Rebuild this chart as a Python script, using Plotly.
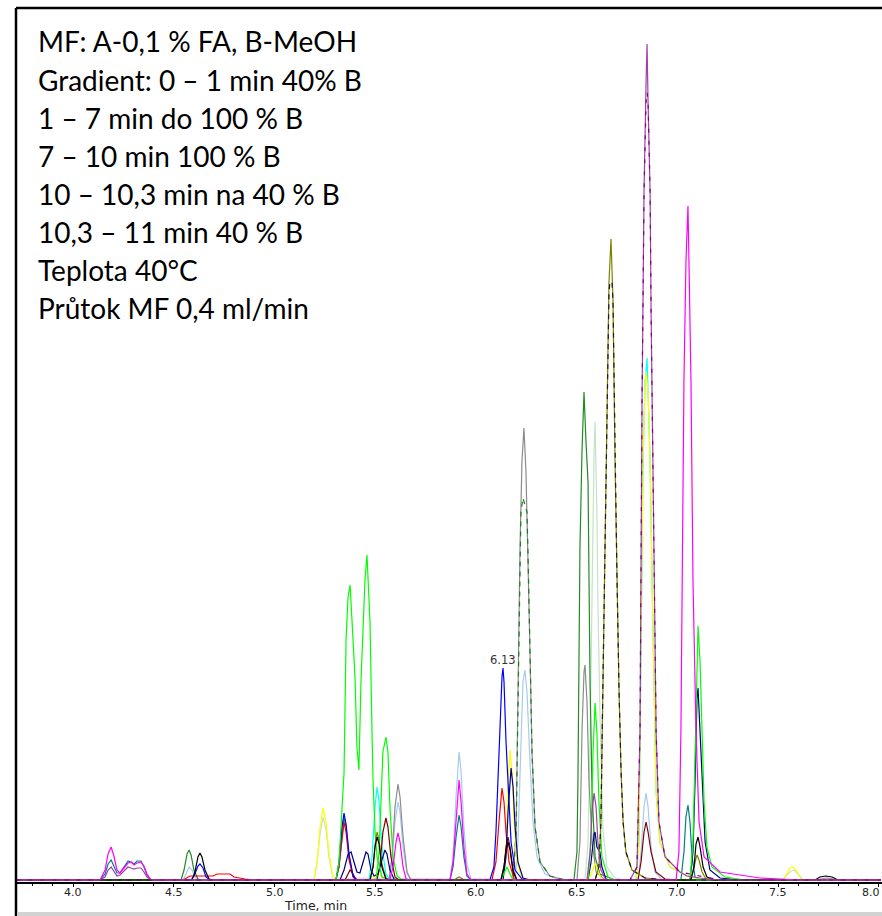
import plotly.graph_objects as go

# ---------------- data: (retention time [min], intensity [a.u.]) ----------------
PALE_GREEN = [(3.72,2),(5.196,2),(5.211,18),(5.226,48),(5.241,65),(5.256,52),(5.270,25),(5.290,4),
              (6.541,2),(6.556,40),(6.566,142),(6.576,302),(6.586,430),(6.591,460),(6.600,369),(6.605,280),
              (6.615,169),(6.630,52),(6.650,15),(6.690,4),(6.739,2),
              (7.524,2),(7.543,7),(7.563,11),(7.578,12),(7.598,8),(7.618,3),(7.638,2),(8.01,2)]

LIGHT_BLUE = [(3.72,2),(4.546,2),(4.561,8),(4.576,15),(4.591,12),(4.605,5),(4.625,2),
              (5.568,2),(5.583,20),(5.598,60),(5.613,80),(5.623,70),(5.638,35),(5.658,8),(5.677,2),
              (5.871,2),(5.886,25),(5.901,85),(5.916,130),(5.926,110),(5.940,55),(5.955,18),(5.975,3),
              (6.194,2),(6.208,40),(6.223,150),(6.233,200),(6.243,212),(6.253,190),(6.268,120),(6.283,60),
              (6.303,25),(6.342,8),(6.417,2),
              (6.804,2),(6.819,30),(6.834,75),(6.844,89),(6.854,75),(6.869,35),(6.888,10),(6.923,2),(8.01,2)]

GRAY = [(3.72,2),(5.568,2),(5.583,25),(5.598,75),(5.613,98),(5.623,85),(5.638,45),(5.658,10),(5.677,2),
        (6.184,2),(6.199,50),(6.208,180),(6.218,330),(6.228,420),(6.238,454),(6.248,410),(6.258,330),
        (6.268,230),(6.278,130),(6.293,55),(6.318,20),(6.367,6),(6.442,2),
        (6.501,2),(6.516,40),(6.526,150),(6.536,210),(6.541,217),(6.551,180),(6.561,100),(6.576,40),
        (6.596,10),(6.640,2),(7.682,2),(7.712,3),(7.742,4),(7.772,3),(7.800,2),(8.01,2)]

GREEN_DASHED = [(3.72,2),(6.184,2),(6.199,50),(6.208,180),(6.218,330),(6.223,370),(6.233,384),(6.243,376),
                (6.253,370),(6.258,330),(6.268,230),(6.278,130),(6.293,55),(6.318,20),(6.367,6),(6.442,2),(8.01,2)]

DARK_GREEN = [(3.72,2),(4.536,2),(4.551,12),(4.566,28),(4.576,32),(4.586,27),(4.600,12),(4.620,3),(4.640,2),
              (5.305,2),(5.320,15),(5.335,50),(5.345,65),(5.355,55),(5.370,25),(5.390,5),(5.409,2),
              (6.486,2),(6.501,30),(6.506,102),(6.516,335),(6.526,430),(6.536,490),(6.546,440),(6.556,400),
              (6.566,200),(6.576,90),(6.591,25),(6.615,8),(6.690,2),(8.01,2)]

TEAL = [(3.72,2),(4.134,2),(4.159,8),(4.174,18),(4.189,22),(4.203,16),(4.218,9),(4.233,9),(4.253,15),
        (4.273,21),(4.288,20),(4.303,18),(4.318,21),(4.337,21),(4.352,15),(4.367,7),(4.387,2),
        (5.871,2),(5.886,15),(5.901,45),(5.916,67),(5.926,55),(5.940,25),(5.955,6),(5.975,2),
        (7.017,2),(7.032,30),(7.042,65),(7.052,77),(7.062,60),(7.072,25),(7.087,5),(7.112,2),(8.01,2)]

CYAN = [(3.72,2),(5.469,2),(5.484,25),(5.499,75),(5.509,95),(5.519,80),(5.533,35),(5.553,8),(5.573,2),
        (6.794,2),(6.809,40),(6.819,250),(6.829,420),(6.839,500),(6.849,524),(6.854,490),(6.864,420),
        (6.874,300),(6.884,180),(6.894,90),(6.913,40),(6.963,15),(7.062,5),(7.161,2),(8.01,2)]

YELLOW = [(3.72,2),(5.196,2),(5.211,20),(5.226,55),(5.241,74),(5.256,60),(5.270,30),(5.290,5),(5.310,2),
          (5.484,2),(5.499,7),(5.514,10),(5.529,7),(5.543,2),
          (6.129,2),(6.149,30),(6.159,100),(6.169,132),(6.179,110),(6.189,60),(6.203,20),(6.228,3),
          (6.561,2),(6.576,10),(6.591,19),(6.605,12),(6.620,3),
          (6.794,2),(6.809,40),(6.819,250),(6.829,420),(6.839,500),(6.844,510),(6.854,490),(6.864,420),
          (6.874,300),(6.884,180),(6.894,90),(6.913,40),(6.963,15),(7.062,5),(7.161,2),
          (7.524,2),(7.543,9),(7.558,14),(7.573,15),(7.593,11),(7.613,3),(7.638,2),(8.01,2)]

RED = [(3.72,2),(4.546,2),(4.581,6),(4.695,6),(4.715,8),(4.779,8),(4.799,5),(4.854,3),(4.903,2),
       (5.305,2),(5.320,15),(5.335,45),(5.345,60),(5.355,50),(5.370,22),(5.390,5),(5.409,2),
       (6.079,2),(6.099,20),(6.114,60),(6.124,90),(6.129,94),(6.139,80),(6.149,50),(6.164,20),(6.189,3),
       (6.218,2),(8.01,2)]

MAROON = [(3.72,2),(5.350,2),(5.365,8),(5.375,12),(5.390,8),(5.404,2),
          (5.509,2),(5.524,18),(5.538,50),(5.553,64),(5.563,55),(5.578,25),(5.598,5),(5.618,2),
          (6.124,2),(6.139,15),(6.149,35),(6.159,45),(6.169,35),(6.184,12),(6.203,2),
          (6.804,2),(6.819,20),(6.834,50),(6.844,60),(6.854,50),(6.869,30),(6.893,10),(6.938,3),(7.012,2),(8.01,2)]

BLUE = [(3.72,2),(4.586,2),(4.605,8),(4.620,16),(4.630,18),(4.645,14),(4.660,5),(4.680,2),
        (5.305,2),(5.320,20),(5.335,55),(5.345,69),(5.355,58),(5.370,28),(5.390,6),(5.409,2),
        (6.069,2),(6.089,15),(6.099,50),(6.109,100),(6.119,165),(6.129,205),(6.134,214),(6.139,200),
        (6.149,140),(6.159,95),(6.174,40),(6.194,12),(6.228,3),(6.268,2),(8.01,2)]

NAVY = [(3.72,2),(5.325,2),(5.345,12),(5.365,28),(5.380,30),(5.395,20),(5.409,10),(5.424,9),(5.439,20),
        (5.454,30),(5.464,28),(5.479,12),(5.494,6),(5.514,8),(5.533,22),(5.548,32),(5.558,28),(5.573,12),
        (5.593,3),(5.613,2),
        (6.134,2),(6.149,25),(6.159,70),(6.169,105),(6.174,114),(6.184,95),(6.194,55),(6.208,20),(6.233,4),(6.268,2),
        (6.556,2),(6.571,20),(6.586,48),(6.591,50),(6.600,35),(6.615,30),(6.625,15),(6.645,3),(6.665,2),
        (7.062,2),(7.077,30),(7.087,100),(7.097,185),(7.102,194),(7.112,150),(7.122,100),(7.137,40),
        (7.161,12),(7.211,4),(7.310,2),(8.01,2)]

LIME_A = [(3.72,2),(5.305,2),(5.320,20),(5.335,69),(5.345,109),(5.350,175),(5.355,242),(5.365,285),(5.375,297),
          (5.385,260),(5.400,202),(5.409,135),(5.419,112),(5.429,200),(5.439,260),(5.449,302),(5.459,327),
          (5.464,300),(5.474,259),(5.484,149),(5.489,102),(5.499,50),(5.509,25),(5.533,5),(5.573,2),(8.01,2)]

LIME_B = [(3.72,2),(5.504,2),(5.519,30),(5.529,90),(5.538,130),(5.553,145),(5.563,130),(5.573,75),(5.588,25),
          (5.608,6),(5.633,2),(6.124,2),(6.139,8),(6.154,15),(6.169,8),(6.184,2),
          (6.556,2),(6.571,40),(6.581,130),(6.591,179),(6.600,150),(6.610,80),(6.625,25),(6.655,5),(6.690,2),
          (7.062,2),(7.077,40),(7.087,140),(7.097,240),(7.102,256),(7.112,220),(7.122,150),(7.132,80),
          (7.146,35),(7.171,15),(7.236,5),(7.335,2),(8.01,2)]

OLIVE = [(3.72,2),(5.474,2),(5.489,15),(5.499,38),(5.509,50),(5.519,42),(5.533,18),(5.553,4),(5.573,2),
         (5.895,2),(5.906,4),(5.916,5),(5.926,4),(5.940,2),
         (6.591,2),(6.610,15),(6.620,60),(6.630,200),(6.640,330),(6.650,480),(6.660,600),(6.670,643),
         (6.680,580),(6.690,420),(6.700,300),(6.710,190),(6.720,110),(6.730,60),(6.744,30),(6.774,12),
         (6.839,4),(6.938,2),
         (7.062,2),(7.077,10),(7.092,24),(7.097,27),(7.107,22),(7.122,10),(7.141,3),(7.171,2),(8.01,2)]

BLACK = [(3.72,2),(4.591,2),(4.605,10),(4.620,25),(4.630,29),(4.640,25),(4.655,12),(4.675,3),(4.695,2),
         (5.474,2),(5.489,15),(5.499,35),(5.509,45),(5.519,38),(5.533,15),(5.553,3),(5.573,2),
         (6.124,2),(6.139,15),(6.149,32),(6.159,40),(6.169,32),(6.184,10),(6.203,2),
         (7.067,2),(7.082,15),(7.092,38),(7.102,45),(7.112,35),(7.127,15),(7.146,5),(7.186,2),
         (7.682,2),(7.707,5),(7.737,6),(7.767,5),(7.797,2),(8.01,2)]

BLACK_MAIN = [(3.72,2),(6.591,2),(6.610,15),(6.620,60),(6.630,200),(6.640,330),(6.650,480),(6.660,590),
              (6.665,600),(6.675,600),(6.680,580),(6.690,420),(6.700,300),(6.710,190),(6.720,110),(6.730,60),
              (6.744,30),(6.774,12),(6.839,4),(6.938,2),(8.01,2)]

MAGENTA = [(3.72,2),(4.134,2),(4.159,12),(4.174,28),(4.189,35),(4.203,26),(4.218,12),(4.233,9),(4.253,14),
           (4.273,19),(4.288,20),(4.303,17),(4.318,19),(4.337,20),(4.352,16),(4.367,8),(4.387,2),
           (5.573,2),(5.588,15),(5.603,40),(5.613,49),(5.623,40),(5.638,15),(5.653,3),(5.672,2),
           (5.871,2),(5.886,20),(5.901,65),(5.916,102),(5.926,80),(5.940,35),(5.955,8),(5.975,2),
           (6.993,2),(7.007,30),(7.017,150),(7.027,380),(7.032,500),(7.042,620),(7.052,676),(7.057,620),
           (7.067,500),(7.077,300),(7.092,150),(7.107,60),(7.132,25),(7.211,10),(7.409,4),(7.608,2),(8.01,2)]

PURPLE = [(3.72,2),(4.134,2),(4.159,5),(4.174,12),(4.189,15),(4.203,11),(4.218,6),(4.233,7),(4.253,11),
          (4.273,15),(4.288,14),(4.303,13),(4.318,14),(4.337,14),(4.352,10),(4.367,5),(4.387,2),
          (6.551,2),(6.566,30),(6.576,70),(6.586,89),(6.596,75),(6.605,40),(6.620,12),(6.645,2),
          (6.764,2),(6.799,15),(6.814,150),(6.824,480),(6.834,690),(6.844,800),(6.849,838),(6.854,780),
          (6.864,690),(6.869,570),(6.874,480),(6.884,300),(6.894,150),(6.908,60),(6.938,25),(7.012,10),
          (7.047,6),(7.112,4),(7.211,2),(8.01,2)]

DARK_PURPLE = [(3.72,2),(6.764,2),(6.799,15),(6.814,150),(6.824,480),(6.834,690),(6.844,780),(6.849,790),
               (6.854,780),(6.864,690),(6.869,570),(6.874,480),(6.884,300),(6.894,150),(6.908,60),(6.938,25),
               (7.012,10),(7.211,2),(8.01,2)]

# (series, colour, dash) in drawing order
SERIES = [
    (PALE_GREEN, "#C4E2C8", None),
    (LIGHT_BLUE, "#A6CAF0", None),
    (GRAY, "#8C8C8C", None),
    (GREEN_DASHED, "#1E7A1E", "5px,5px"),
    (DARK_GREEN, "#228B22", None),
    (TEAL, "#008080", None),
    (CYAN, "#00FFFF", None),
    (YELLOW, "#FFFF00", None),
    (RED, "#FF0000", None),
    (MAROON, "#800000", None),
    (BLUE, "#0000FF", None),
    (NAVY, "#000080", None),
    (LIME_A, "#00FF00", None),
    (LIME_B, "#00FF00", None),
    (OLIVE, "#808000", None),
    (BLACK, "#000000", None),
    (BLACK_MAIN, "#1A1A1A", "5px,5px"),
    (MAGENTA, "#FF00FF", None),
    (PURPLE, "#A040A8", None),
    (DARK_PURPLE, "#800080", "4px,8px"),
]

METHOD_TEXT = ["MF: A-0,1 % FA, B-MeOH",
               "Gradient: 0 – 1 min 40% B",
               "1 – 7 min do 100 % B",
               "7 – 10 min 100 % B",
               "10 – 10,3 min na 40 % B",
               "10,3 – 11 min 40 % B",
               "Teplota 40°C",
               "Průtok MF 0,4 ml/min"]

TICK_VALUES = [4.0, 4.5, 5.0, 5.5, 6.0, 6.5, 7.0, 7.5, 8.0]
TICK_LABELS = ["4.0", "4.5", "5.0", "5.5", "6.0", "6.5", "7.0", "7.5", "8.0"]
X_TITLE = "Time, min"

PEAK_LABEL = "6.13"
PEAK_LABEL_POS = (6.134, 222)

X_RANGE = [3.717, 8.015]
Y_RANGE = [0, 874]

# ---------------- figure ----------------
W, H = 882, 916
ML, MR, MT, MB = 16, 0, 8, 34
PW, PH = W - ML - MR, H - MT - MB


def px_x(px):
    return (px - ML) / PW


def px_y(py):
    return (H - MB - py) / PH


fig = go.Figure()
for data, color, dash in SERIES:
    xs = [p[0] for p in data]
    ys = [p[1] for p in data]
    line = dict(color=color, width=1.2)
    if dash:
        line["dash"] = dash
    fig.add_trace(go.Scatter(x=xs, y=ys, mode="lines", line=line, hoverinfo="skip", showlegend=False))

annotations = []
for i, line in enumerate(METHOD_TEXT):
    annotations.append(dict(text=line, xref="paper", yref="paper", x=px_x(36), y=px_y(41.5 + 38.1 * i),
                            xanchor="left", yanchor="middle", showarrow=False,
                            font=dict(family="Lato", size=28, color="#000000")))
for v, lab in zip(TICK_VALUES, TICK_LABELS):
    last = v == TICK_VALUES[-1]
    annotations.append(dict(text=lab, xref="paper" if last else "x", yref="paper",
                            x=1 if last else v, y=px_y(893),
                            xanchor="right" if last else "center", yanchor="middle", showarrow=False,
                            font=dict(family="DejaVu Sans", size=11, color="#222222")))
annotations.append(dict(text=PEAK_LABEL, xref="x", yref="y", x=PEAK_LABEL_POS[0], y=PEAK_LABEL_POS[1],
                        xanchor="center", yanchor="middle", showarrow=False,
                        font=dict(family="DejaVu Sans", size=11.5, color="#333333")))
annotations.append(dict(text=X_TITLE, xref="paper", yref="paper", x=px_x(315), y=px_y(906),
                        xanchor="center", yanchor="middle", showarrow=False,
                        font=dict(family="DejaVu Sans", size=12.5, color="#222222")))

shapes = [
    dict(type="line", xref="paper", yref="paper", x0=0, x1=1, y0=px_y(8), y1=px_y(8),
         line=dict(color="#000000", width=2.5)),
    dict(type="line", xref="paper", yref="paper", x0=0, x1=0, y0=px_y(916), y1=px_y(8),
         line=dict(color="#000000", width=2.5)),
    dict(type="rect", xref="paper", yref="paper", x0=px_x(17), x1=1, y0=px_y(916), y1=px_y(912),
         line=dict(width=0), fillcolor="#D2D2D2"),
]

fig.update_layout(
    width=W, height=H,
    margin=dict(l=ML, r=MR, t=MT, b=MB, pad=0),
    paper_bgcolor="#FFFFFF", plot_bgcolor="#FFFFFF",
    showlegend=False,
    annotations=annotations,
    shapes=shapes,
    xaxis=dict(range=X_RANGE, showgrid=False, zeroline=False,
               showline=True, linecolor="#000000", linewidth=2,
               ticks="outside", ticklen=3, tickwidth=1, tickcolor="#000000",
               tick0=4.0, dtick=0.5, showticklabels=False,
               minor=dict(tick0=4.0, dtick=0.1, ticks="outside", ticklen=2, tickcolor="#000000", showgrid=False)),
    yaxis=dict(range=Y_RANGE, visible=False, showgrid=False, zeroline=False),
)

fig.write_html("out.html")
